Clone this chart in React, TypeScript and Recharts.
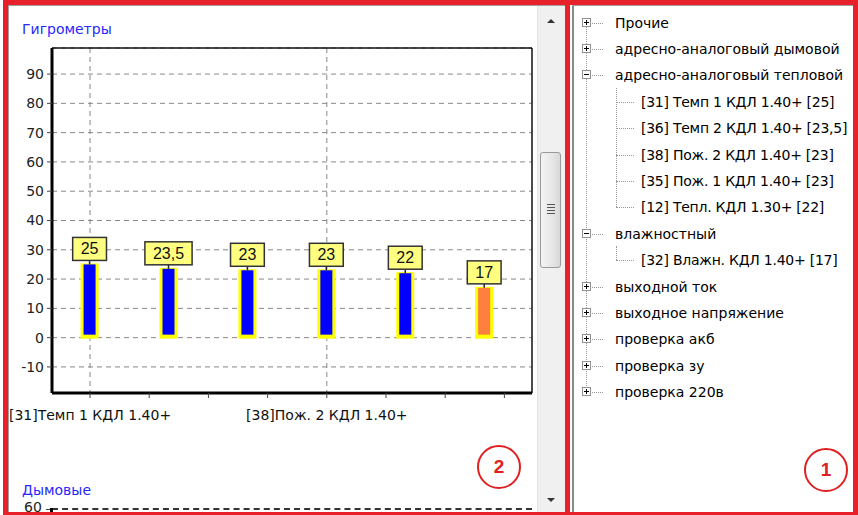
import React from 'react';
import { ComposedChart, Bar, XAxis, YAxis, CartesianGrid, LabelList, ReferenceLine } from 'recharts';

const sensorIds = [31, 36, 38, 35, 12, 32];
const sensorNames = ['Темп 1 КДЛ 1.40+', 'Темп 2 КДЛ 1.40+', 'Пож. 2 КДЛ 1.40+', 'Пож. 1 КДЛ 1.40+', 'Тепл. КДЛ 1.30+', 'Влажн. КДЛ 1.40+'];
const readings = [25, 23.5, 23, 23, 22, 17];
const barColors = ['#0000ff', '#0000ff', '#0000ff', '#0000ff', '#0000ff', '#ff7f3f'];
const yTicks = [-10, 0, 10, 20, 30, 40, 50, 60, 70, 80, 90];
const yMinorTicks = [-18, -16, -14, -12, -10, -8, -6, -4, -2, 0, 2, 4, 6, 8, 10, 12, 14, 16, 18, 20, 22, 24, 26, 28, 30, 32, 34, 36, 38, 40, 42, 44, 46, 48, 50, 52, 54, 56, 58, 60, 62, 64, 66, 68, 70, 72, 74, 76, 78, 80, 82, 84, 86, 88, 90, 92, 94, 96, 98];
const xTicks = [0, 0.75, 1.5, 2.25, 3, 3.75, 4.5, 5.25];
const xTickLabels: Record<string, string> = { '0': '[31]Темп 1 КДЛ 1.40+', '3': '[38]Пож. 2 КДЛ 1.40+' };
const xGridValues = [0, 3];
const yDomain = [-18.9, 98.9];
const xDomain = [-0.482, 5.6];

const treeRows = [
  { box: '+', text: 'Прочие' },
  { box: '+', text: 'адресно-аналоговый дымовой' },
  { box: '-', text: 'адресно-аналоговый тепловой', children: [0, 1, 2, 3, 4] },
  { box: '-', text: 'влажностный', children: [5] },
  { box: '+', text: 'выходной ток' },
  { box: '+', text: 'выходное напряжение' },
  { box: '+', text: 'проверка акб' },
  { box: '+', text: 'проверка зу' },
  { box: '+', text: 'проверка 220в' },
];

const fmt = (v: number) => String(v).replace('.', ',');

const data = readings.map((v, i) => ({ idx: i, value: v, color: barColors[i] }));

const FONT = '"DejaVu Sans", Verdana, sans-serif';
const LFONT = '"Liberation Sans", Arial, sans-serif';

const gridX = (args: any) => {
  const xAxis = args && args.xAxis;
  const offset = (args && args.offset) || {};
  const s = xAxis && xAxis.scale;
  let out: number[] | null = null;
  try {
    if (typeof s === 'function') out = xGridValues.map((v) => s(v));
    else if (s && typeof s.map === 'function' && !Array.isArray(s)) out = xGridValues.map((v) => s.map(v));
  } catch (e) {
    out = null;
  }
  if (!out || out.some((p) => typeof p !== 'number' || isNaN(p))) {
    const [d0, d1] = xDomain;
    out = xGridValues.map((v) => offset.left + ((v - d0) / (d1 - d0)) * offset.width);
  }
  return out;
};

const BarShape = (props: any) => {
  const { x, y, width, height, payload } = props;
  if (height == null || width == null) return null;
  return (
    <g>
      <rect x={x} y={y - 1} width={width} height={height + 2} fill="#ffff00" />
      <rect x={x + 3} y={y} width={width - 6} height={Math.max(0, height - 3)} fill={payload.color} />
    </g>
  );
};

const charW = (c: string) => (c === ',' ? 4.5 : 8.9);

const BoxLabel = (props: any) => {
  const { x, y, width, value } = props;
  const cx = x + width / 2;
  const text = fmt(value);
  const w = text.split('').reduce((s, c) => s + charW(c), 0) + 16;
  const bottom = y - 4;
  const h = 23;
  return (
    <g>
      <line x1={cx} y1={bottom} x2={cx} y2={y} stroke="#222" strokeWidth={1.5} />
      <rect x={cx - w / 2} y={bottom - h} width={w} height={h} fill="#ffff80" stroke="#333" strokeWidth={1.5} />
      <text x={cx} y={bottom - h / 2 + 5.5} textAnchor="middle" fontSize={16} fontFamily={LFONT} fill="#111">{text}</text>
    </g>
  );
};

const Chart = () => (
  <ComposedChart width={537} height={430} data={data} margin={{ top: 48, right: 5, left: 0, bottom: 7 }}>
    <CartesianGrid stroke="#888" strokeDasharray="5 4" verticalCoordinatesGenerator={gridX} />
    <XAxis
      dataKey="idx"
      type="number"
      domain={xDomain}
      ticks={xTicks}
      interval={0}
      height={30}
      axisLine={{ stroke: '#000', strokeWidth: 3 }}
      tickLine={{ stroke: '#444' }}
      tickSize={5}
      tickMargin={12}
      allowDataOverflow
      tick={{ fontSize: 14, fill: '#111', fontFamily: FONT }}
      tickFormatter={(v: number) => xTickLabels[String(v)] || ''}
    />
    <YAxis yAxisId="minor" orientation="left" type="number" domain={yDomain} ticks={yMinorTicks} width={0} tick={false} tickSize={3} tickLine={{ stroke: '#666' }} axisLine={false} allowDataOverflow interval={0} />
    <YAxis
      type="number"
      domain={yDomain}
      ticks={yTicks}
      interval={0}
      width={52}
      allowDataOverflow
      axisLine={{ stroke: '#000', strokeWidth: 3 }}
      tickLine={{ stroke: '#444' }}
      tickSize={5}
      tickMargin={3}
      tick={{ fontSize: 14, fill: '#222', fontFamily: FONT }}
    />
    <ReferenceLine y={yDomain[1]} stroke="#111" strokeWidth={1.5} />
    <ReferenceLine x={xDomain[1]} stroke="#111" strokeWidth={1.5} />
    <Bar dataKey="value" barSize={18} isAnimationActive={false} shape={<BarShape />}>
      <LabelList dataKey="value" content={<BoxLabel />} />
    </Bar>
  </ComposedChart>
);

const ROW0 = 22.5;
const ROWH = 26.4;
const TREE_FS = 14;

const Tree = () => {
  const items: any[] = [];
  let row = 0;
  const topRows: number[] = [];
  treeRows.forEach((t, ti) => {
    const r = row;
    topRows.push(r);
    const cy = ROW0 + ROWH * r;
    items.push(
      <div key={'b' + ti} style={{ position: 'absolute', left: 582, top: cy - 5, width: 9, height: 9, boxSizing: 'border-box', border: '1px solid #919191', background: '#fff' }}>
        <div style={{ position: 'absolute', left: 1, top: 3, width: 5, height: 1, background: '#000' }} />
        {t.box === '+' && <div style={{ position: 'absolute', left: 3, top: 1, width: 1, height: 5, background: '#000' }} />}
      </div>
    );
    items.push(<div key={'h' + ti} style={{ position: 'absolute', left: 592, top: cy, width: 11, borderTop: '1px dotted #999' }} />);
    items.push(
      <div key={'t' + ti} style={{ position: 'absolute', left: 615, top: cy - 10, height: 20, lineHeight: '20px', fontSize: TREE_FS, color: '#000', whiteSpace: 'nowrap' }}>{t.text}</div>
    );
    row++;
    if (t.children) {
      const first = row;
      t.children.forEach((ci: number) => {
        const ccy = ROW0 + ROWH * row;
        items.push(<div key={'ch' + ci} style={{ position: 'absolute', left: 616, top: ccy, width: 18, borderTop: '1px dotted #999' }} />);
        items.push(
          <div key={'ct' + ci} style={{ position: 'absolute', left: 641, top: ccy - 10, height: 20, lineHeight: '20px', fontSize: TREE_FS, letterSpacing: '-0.25px', color: '#000', whiteSpace: 'nowrap' }}>
            {`[${sensorIds[ci]}] ${sensorNames[ci]} [${fmt(readings[ci])}]`}
          </div>
        );
        row++;
      });
      const last = row - 1;
      items.push(<div key={'cv' + ti} style={{ position: 'absolute', left: 616, top: ROW0 + ROWH * first - 14, height: ROWH * (last - first) + 14, borderLeft: '1px dotted #999' }} />);
    }
  });
  const lastTop = topRows[topRows.length - 1];
  items.unshift(<div key="vline" style={{ position: 'absolute', left: 586, top: ROW0 + 4, height: ROWH * lastTop - 8, borderLeft: '1px dotted #999' }} />);
  return <>{items}</>;
};

const RED = '#e8202a';

export default function App() {
  return (
    <div style={{ position: 'fixed', left: 0, top: 0, width: 858, height: 515, background: '#fff', overflow: 'hidden', fontFamily: FONT }}>
      <div style={{ position: 'absolute', left: 22, top: 21, fontSize: 14, color: '#2828ff' }}>Гигрометры</div>
      <div style={{ position: 'absolute', left: 0, top: 0 }}>
        <Chart />
      </div>
      <div style={{ position: 'absolute', left: 22, top: 482, fontSize: 14, color: '#2828ff' }}>Дымовые</div>
      <div style={{ position: 'absolute', left: 24, top: 500, fontSize: 14, lineHeight: '14px', color: '#222' }}>60</div>
      <div style={{ position: 'absolute', left: 46, top: 509, width: 6, borderTop: '1px solid #444' }} />
      <div style={{ position: 'absolute', left: 52, top: 508, width: 480, borderTop: '2px dashed #333' }} />
      <div style={{ position: 'absolute', left: 50, top: 508, width: 3, height: 8, background: '#000' }} />

      <div style={{ position: 'absolute', left: 477, top: 445, width: 44, height: 44, boxSizing: 'border-box', border: '2.5px solid #e02020', borderRadius: '50%', color: '#e02020', fontWeight: 'bold', fontSize: 19, lineHeight: '39px', textAlign: 'center', fontFamily: LFONT }}>2</div>

      <div style={{ position: 'absolute', left: 537, top: 5, width: 28, height: 507, background: '#f0f0f0', borderLeft: '1px solid #e4e4e4' }}>
        <div style={{ position: 'absolute', left: 9, top: 14, width: 0, height: 0, borderLeft: '4px solid transparent', borderRight: '4px solid transparent', borderBottom: '4px solid #333' }} />
        <div style={{ position: 'absolute', left: 2, top: 147, width: 21, height: 116, boxSizing: 'border-box', border: '1px solid #9a9a9a', borderRadius: 3, background: 'linear-gradient(to right, #f4f4f4, #e6e6e6 60%, #d8d8d8)' }}>
          <div style={{ position: 'absolute', left: 6, top: 51, width: 8, height: 1, background: '#555' }} />
          <div style={{ position: 'absolute', left: 6, top: 54, width: 8, height: 1, background: '#555' }} />
          <div style={{ position: 'absolute', left: 6, top: 57, width: 8, height: 1, background: '#555' }} />
          <div style={{ position: 'absolute', left: 6, top: 60, width: 8, height: 1, background: '#555' }} />
        </div>
        <div style={{ position: 'absolute', left: 9, top: 493, width: 0, height: 0, borderLeft: '4px solid transparent', borderRight: '4px solid transparent', borderTop: '4px solid #333' }} />
      </div>

      <div style={{ position: 'absolute', left: 572, top: 5, width: 2, height: 507, background: '#8a8a8a' }} />
      <Tree />
      <div style={{ position: 'absolute', left: 804, top: 448, width: 44, height: 44, boxSizing: 'border-box', border: '2.5px solid #e02020', borderRadius: '50%', color: '#e02020', fontWeight: 'bold', fontSize: 19, lineHeight: '39px', textAlign: 'center', fontFamily: LFONT }}>1</div>

      <div style={{ position: 'absolute', left: 8, top: 5, width: 1, height: 507, background: '#a0a0a0' }} />
      <div style={{ position: 'absolute', left: 8, top: 5, width: 557, height: 1, background: '#a0a0a0' }} />
      <div style={{ position: 'absolute', left: 572, top: 5, width: 282, height: 1, background: '#a0a0a0' }} />

      <div style={{ position: 'absolute', left: 3, top: 0, width: 5, height: 515, background: RED }} />
      <div style={{ position: 'absolute', left: 3, top: 0, width: 855, height: 5, background: RED }} />
      <div style={{ position: 'absolute', left: 3, top: 512, width: 855, height: 3, background: RED }} />
      <div style={{ position: 'absolute', left: 565, top: 0, width: 5, height: 515, background: RED }} />
      <div style={{ position: 'absolute', left: 853, top: 0, width: 5, height: 515, background: RED }} />
    </div>
  );
}
